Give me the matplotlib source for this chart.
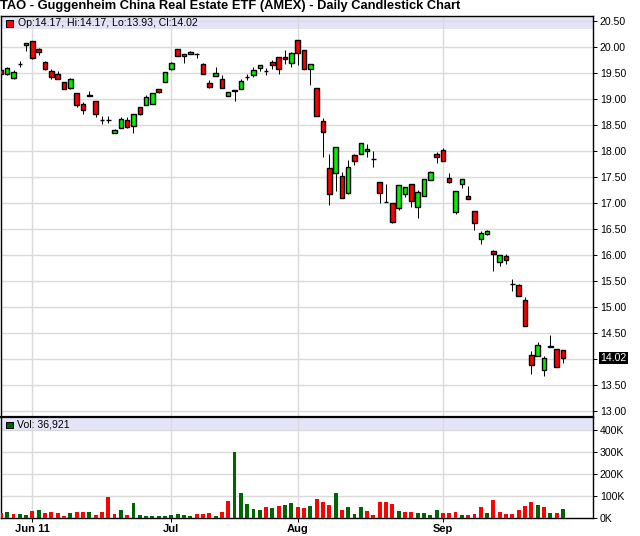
import matplotlib
matplotlib.use('Agg')
import matplotlib.pyplot as plt
from matplotlib.ticker import FixedLocator, FixedFormatter
import numpy as np

plt.rcParams['font.family'] = ['Liberation Sans', 'DejaVu Sans']

# ---------------- data ----------------
opens = [19.55, 19.48, 19.40, 19.67, 20.03, 20.11, 19.97, 19.72, 19.53, 19.49,
         19.32, 19.22, 19.12, 18.90, 19.07, 18.96, 18.60, 18.60, 18.34, 18.45,
         18.60, 18.49, 18.85, 18.89, 18.91, 19.19, 19.33, 19.58, 19.96, 19.82,
         19.86, 19.87, 19.67, 19.31, 19.45, 19.38, 19.06, 19.17, 19.20, 19.43,
         19.47, 19.60, 19.53, 19.71, 19.80, 19.80, 19.70, 20.13, 19.94, 19.57,
         19.21, 18.58, 17.67, 17.57, 17.51, 17.19, 17.92, 17.94, 18.00, 17.85,
         17.40, 17.02, 17.00, 16.90, 17.17, 17.36, 16.93, 17.13, 17.44, 17.94,
         18.01, 17.49, 16.83, 17.37, 17.13, 16.84, 16.30, 16.40, 16.08, 15.87,
         15.98, 15.45, 15.42, 15.13, 14.07, 14.05, 13.79, 14.25, 14.19, 14.17]
highs = [19.56, 19.61, 19.56, 19.73, 20.07, 20.12, 19.98, 19.73, 19.58, 19.53,
         19.32, 19.40, 19.12, 18.95, 19.15, 18.96, 18.67, 18.67, 18.42, 18.65,
         18.65, 18.72, 18.85, 19.08, 19.12, 19.20, 19.52, 19.72, 19.96, 19.87,
         19.92, 19.88, 19.70, 19.36, 19.62, 19.46, 19.13, 19.17, 19.39, 19.49,
         19.61, 19.66, 19.60, 19.75, 19.80, 19.94, 19.90, 20.13, 19.94, 19.68,
         19.21, 18.63, 17.94, 18.07, 17.59, 17.83, 17.94, 18.15, 18.13, 18.00,
         17.40, 17.37, 17.00, 17.34, 17.31, 17.36, 17.25, 17.47, 17.61, 17.98,
         18.05, 17.57, 17.23, 17.47, 17.33, 16.84, 16.46, 16.49, 16.10, 16.00,
         16.02, 15.54, 15.44, 15.19, 14.15, 14.32, 14.05, 14.46, 14.19, 14.17]
lows = [19.47, 19.47, 19.39, 19.62, 19.93, 19.76, 19.85, 19.56, 19.39, 19.39,
        19.19, 19.19, 18.84, 18.71, 19.06, 18.66, 18.51, 18.54, 18.34, 18.45,
        18.45, 18.35, 18.70, 18.89, 18.91, 19.12, 19.33, 19.55, 19.82, 19.70,
        19.86, 19.78, 19.49, 19.22, 19.45, 19.22, 19.06, 18.97, 19.20, 19.36,
        19.43, 19.53, 19.47, 19.58, 19.49, 19.67, 19.62, 19.66, 19.57, 19.26,
        18.67, 17.88, 16.97, 17.24, 17.09, 17.17, 17.73, 17.94, 17.88, 17.69,
        17.00, 17.01, 16.62, 16.86, 17.12, 16.93, 16.72, 17.13, 17.44, 17.76,
        17.80, 17.38, 16.79, 17.29, 17.07, 16.49, 16.21, 16.38, 15.70, 15.79,
        15.82, 15.31, 15.21, 14.63, 13.71, 14.05, 13.68, 14.24, 13.84, 13.93]
closes = [19.49, 19.60, 19.51, 19.67, 20.07, 19.79, 19.91, 19.58, 19.43, 19.39,
          19.20, 19.38, 18.88, 18.79, 19.06, 18.72, 18.60, 18.60, 18.40, 18.61,
          18.47, 18.72, 18.72, 19.04, 19.12, 19.14, 19.52, 19.69, 19.82, 19.87,
          19.90, 19.86, 19.49, 19.24, 19.50, 19.22, 19.13, 19.16, 19.35, 19.43,
          19.55, 19.65, 19.53, 19.66, 19.57, 19.76, 19.88, 19.88, 19.57, 19.67,
          18.67, 18.36, 17.17, 18.07, 17.09, 17.69, 17.80, 18.15, 18.04, 17.85,
          17.19, 17.01, 16.64, 17.34, 17.31, 17.03, 17.22, 17.47, 17.59, 17.88,
          17.80, 17.40, 17.23, 17.47, 17.07, 16.61, 16.42, 16.47, 16.01, 16.00,
          15.90, 15.45, 15.21, 14.63, 13.88, 14.26, 14.01, 14.24, 13.84, 14.02]
volumes_k = [20, 24, 15, 15, 11, 29, 33, 20, 24, 20,
             6, 20, 24, 24, 24, 11, 24, 92, 15, 33,
             11, 65, 11, 6, 6, 6, 6, 11, 15, 11,
             6, 15, 15, 20, 6, 24, 74, 302, 111, 61,
             38, 33, 47, 42, 52, 56, 65, 47, 42, 52,
             83, 70, 56, 111, 33, 47, 15, 47, 29, 11,
             70, 70, 61, 29, 24, 24, 20, 20, 11, 33,
             20, 20, 24, 11, 11, 15, 47, 20, 79, 24,
             15, 15, 33, 52, 70, 56, 47, 20, 20, 36.921]
vol_up = [0, 1, 0, 1, 1, 0, 1, 0, 0, 0,
          0, 1, 0, 0, 1, 0, 0, 0, 0, 1,
          0, 1, 1, 1, 1, 1, 1, 1, 1, 1,
          1, 0, 0, 0, 1, 0, 0, 1, 1, 1,
          1, 1, 0, 1, 0, 1, 1, 0, 0, 1,
          0, 0, 0, 1, 0, 1, 1, 1, 0, 0,
          0, 0, 0, 1, 0, 0, 1, 1, 1, 1,
          0, 0, 0, 1, 0, 0, 0, 1, 0, 0,
          0, 0, 0, 0, 0, 1, 0, 1, 0, 1]
month_ticks = [5, 27, 47, 70]
month_labels = ['Jun 11', 'Jul', 'Aug', 'Sep']
price_ticks = [13.0, 13.5, 14.0, 14.5, 15.0, 15.5, 16.0, 16.5, 17.0, 17.5,
               18.0, 18.5, 19.0, 19.5, 20.0, 20.5]
vol_ticks = [0, 100, 200, 300, 400]
vol_tick_labels = ['0K', '100K', '200K', '300K', '400K']
title = 'TAO - Guggenheim China Real Estate ETF (AMEX) - Daily Candlestick Chart'
last_price = 14.02
header = 'Op:14.17, Hi:14.17, Lo:13.93, Cl:14.02'
vol_header = 'Vol: 36,921'

# ---------------- figure ----------------
W, H = 640, 536
fig = plt.figure(figsize=(W / 100, H / 100), dpi=100)
fig.patch.set_facecolor('white')


def px_axes(x0, y0, x1, y1):
    return fig.add_axes([x0 / W, 1 - y1 / H, (x1 - x0) / W, (y1 - y0) / H])


axp = px_axes(0.5, 16, 593, 416.5)
axv = px_axes(0.5, 417, 593, 517.5)

grid_c = '#DADADA'
band_c = '#E4E4F8'
RED = '#FF0000'
LIME = '#00F000'
DKGREEN = '#006400'
px = 0.72  # one pixel in points

xlim = (-0.06, 93.77)
idx = np.arange(len(opens))
o = np.array(opens); c = np.array(closes)
h = np.array(highs); l = np.array(lows)

# ---- price panel ----
axp.set_xlim(*xlim)
axp.set_ylim(12.894, 20.596)
axp.axhspan(20.346, 20.596, color=band_c, zorder=0.1, lw=0)
axp.set_axisbelow(True)
for y in price_ticks:
    axp.axhline(y, color=grid_c, lw=1.4 * px, zorder=0.3)
for m in month_ticks:
    axp.axvline(m, color=grid_c, lw=1.4 * px, zorder=0.3)

axp.vlines(idx, l, h, color='black', lw=px, zorder=2)
colors = [LIME if cc > oo else RED for oo, cc in zip(o, c)]
bottoms = np.minimum(o, c)
heights = np.abs(c - o)
axp.bar(idx, heights, bottom=bottoms, width=0.72, color=colors,
        edgecolor='black', linewidth=1.0 * px * 1.4, zorder=3)

axp.yaxis.tick_right()
axp.yaxis.set_major_locator(FixedLocator(price_ticks))
axp.yaxis.set_major_formatter(FixedFormatter(
    ['' if abs(v - 14.0) < 1e-9 else f'{v:.2f}' for v in price_ticks]))
axp.tick_params(axis='y', direction='out', length=3, width=px, pad=2,
                labelsize=7.6, colors='black')
axp.tick_params(axis='x', bottom=False, labelbottom=False)
for s in ['top', 'left', 'right']:
    axp.spines[s].set_linewidth(1.4 * px)
    axp.spines[s].set_color('black')
axp.spines['bottom'].set_visible(False)

# ---- volume panel ----
axv.set_xlim(*xlim)
axv.set_ylim(0, 461)
axv.axhspan(400, 461, color=band_c, zorder=0.1, lw=0)
axv.set_axisbelow(True)
for y in vol_ticks[1:]:
    axv.axhline(y, color=grid_c, lw=1.4 * px, zorder=0.3)
for m in month_ticks:
    axv.axvline(m, color=grid_c, lw=1.4 * px, zorder=0.3)
vcolors = [DKGREEN if u else RED for u in vol_up]
axv.bar(idx, volumes_k, width=0.62, color=vcolors, lw=0, zorder=3)

axv.yaxis.tick_right()
axv.yaxis.set_major_locator(FixedLocator(vol_ticks))
axv.yaxis.set_major_formatter(FixedFormatter(vol_tick_labels))
axv.tick_params(axis='y', direction='out', length=3, width=px, pad=2,
                labelsize=7.6)
axv.xaxis.set_major_locator(FixedLocator(month_ticks))
axv.xaxis.set_major_formatter(FixedFormatter(month_labels))
axv.tick_params(axis='x', direction='out', length=3, width=px, pad=2,
                labelsize=8)
for lab in axv.get_xticklabels():
    lab.set_fontweight('bold')
for s in ['bottom', 'left', 'right']:
    axv.spines[s].set_linewidth(1.4 * px)
    axv.spines[s].set_color('black')
axv.spines['top'].set_linewidth(2.2 * px)

# ---- texts ----
fig.text(0.5 / W, 1 - 6 / H, title, fontsize=9.3, fontweight='bold',
         ha='left', va='center')
fig.patches.append(plt.Rectangle((6 / W, 1 - 26.5 / H), 6.5 / W, 6.5 / H,
                                 transform=fig.transFigure, facecolor=RED,
                                 edgecolor='black', lw=px, figure=fig))
fig.text(18 / W, 1 - 22.8 / H, header, fontsize=7.6, ha='left', va='center')
fig.patches.append(plt.Rectangle((6 / W, 1 - 428.3 / H), 6.5 / W, 6.5 / H,
                                 transform=fig.transFigure, facecolor=DKGREEN,
                                 edgecolor='black', lw=px, figure=fig))
fig.text(17 / W, 1 - 424.8 / H, vol_header, fontsize=7.6, ha='left', va='center')

axp.annotate(f'{last_price:.2f}', xy=(1.0, last_price),
             xycoords=('axes fraction', 'data'), xytext=(5.5, 0),
             textcoords='offset points', ha='left', va='center',
             fontsize=7.6, color='white',
             bbox=dict(boxstyle='square,pad=0.12', facecolor='black',
                       edgecolor='none'))

fig.savefig('out.png', dpi=100, facecolor='white')
